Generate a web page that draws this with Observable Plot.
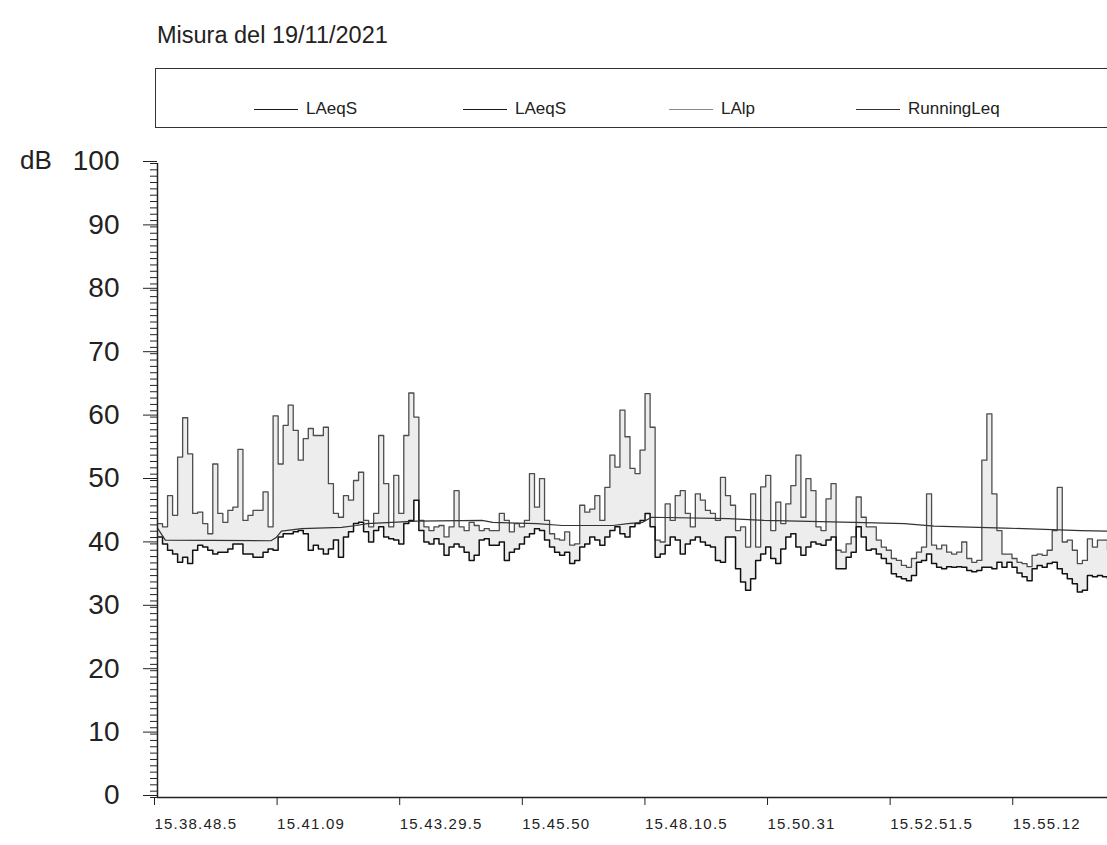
<!DOCTYPE html>
<html><head><meta charset="utf-8">
<script src="https://cdn.jsdelivr.net/npm/d3@7"></script>
<script src="https://cdn.jsdelivr.net/npm/@observablehq/plot@0.6"></script>
<style>
html,body{margin:0;padding:0;background:#fff;}
#page{position:relative;width:1107px;height:845px;overflow:hidden;font-family:"Liberation Sans",Arial,sans-serif;color:#222;}
#title{position:absolute;left:157px;top:21px;font-size:23.5px;line-height:28px;}
#legend{position:absolute;left:155px;top:68px;width:1000px;height:58px;border:1.5px solid #333;}
.item{position:absolute;top:30px;height:20px;display:flex;align-items:center;font-size:17px;white-space:nowrap;}
.swatch{display:inline-block;width:44px;height:0;border-top:1.5px solid #222;margin-right:8px;}
#dB{position:absolute;left:20px;top:145px;font-size:26px;line-height:30px;}
#chart{position:absolute;left:0;top:140px;}
#chart g[aria-label="x-axis tick label"] text{letter-spacing:1.2px;}
</style></head>
<body>
<div id="page">
  <div id="title">Misura del 19/11/2021</div>
  <div id="legend"></div>
  <div id="dB">dB</div>
  <div id="chart"></div>
</div>
<script>
// ---- data ----
const seriesNames = ["LAeqS", "LAeqS", "LAlp", "RunningLeq"];
const seriesColors = ["#1a1a1a", "#1a1a1a", "#8a8a8a", "#333333"];
const sampleSeconds = 5.76; // sampling interval of the plotted samples
const xTickLabels = ["15.38.48.5","15.41.09","15.43.29.5","15.45.50","15.48.10.5","15.50.31","15.52.51.5","15.55.12"];
const xTickSeconds = [0, 140.5, 281, 421.5, 562, 702.5, 843, 983.5];
const yTicks = [0,10,20,30,40,50,60,70,80,90,100];

// upper (peak) trace, dB
const lalp = [
 43.2,42.7,47.6,44.5,53.7,59.9,54.2,44.8,45.0,43.2, 41.6,52.6,44.8,43.4,45.3,45.8,54.9,43.7,44.5,45.3,
 45.3,48.2,42.7,60.2,52.6,58.7,61.9,57.9,53.2,56.6, 58.2,57.1,57.1,58.4,49.5,44.8,44.2,47.6,
 46.9,50.0,51.3,43.7,42.7,44.8,57.1,49.5,42.7,50.8, 44.8,57.1,63.8,60.0,43.7,42.7,42.1,42.7,42.9,41.1,
 42.7,48.4,42.7,42.1,43.4,42.9,42.1,42.4,42.1,42.1, 44.8,43.7,41.9,43.2,42.7,43.7,51.1,45.8,
 50.3,43.7,41.6,40.8,40.6,41.9,39.8,40.0,46.1,45.0, 45.5,47.6,43.7,48.9,54.0,52.1,61.1,56.9,51.9,51.1,
 54.8,63.7,58.4,40.6,40.3,46.3,43.7,47.6,48.4,44.8, 42.7,47.9,46.9,45.3,44.8,43.7,50.5,47.6,
 46.1,42.1,42.7,39.5,47.9,39.5,49.0,50.8,42.1,46.6, 43.2,46.3,49.2,54.0,44.2,50.3,48.4,42.7,42.1,47.1,
 49.5,39.0,38.7,40.0,41.1,47.4,44.2,42.7,42.7,40.6, 39.5,39.0,37.7,37.4,36.6,36.3,37.7,38.7,
 39.5,47.9,39.8,39.2,39.8,38.7,38.4,38.7,40.3,37.7, 37.1,37.4,53.2,60.5,47.9,42.1,38.4,38.4,37.7,37.1,
 36.9,36.4,38.2,38.4,38.2,39.0,42.1,48.9,40.3,40.6, 39.0,36.9,37.4,40.8,39.5,40.6,40.6,39.0
];
// lower trace, dB
const laeqs = [
 41.1,40.0,39.0,38.4,37.1,37.9,36.9,39.0,39.8,39.5, 39.0,38.4,38.7,38.7,39.2,40.0,40.0,38.4,38.4,37.9,
 37.9,38.7,39.2,39.0,41.1,41.6,41.6,41.9,42.1,41.6, 39.0,39.8,39.2,38.4,39.2,40.6,37.9,41.1,
 41.9,43.2,43.4,41.9,40.3,42.1,42.7,41.1,40.8,40.6, 40.0,43.2,43.7,46.9,42.1,40.3,40.0,40.8,40.0,38.2,
 39.5,40.0,39.5,38.7,37.4,38.2,40.6,40.8,39.8,39.8, 40.3,37.4,38.7,39.2,40.0,41.1,41.6,42.4,
 42.1,40.6,39.5,38.7,38.2,38.7,36.9,37.4,39.5,40.0, 41.1,40.6,39.8,41.1,42.1,42.7,41.6,41.1,42.7,43.2,
 43.7,44.8,42.7,37.9,38.4,39.8,41.1,40.6,38.4,40.0, 40.6,41.1,40.3,39.8,39.5,37.4,37.1,41.1,
 41.1,36.1,34.0,32.7,34.5,37.4,38.4,39.5,37.7,36.9, 39.2,41.1,41.6,39.5,38.2,39.5,40.3,40.0,39.8,40.6,
 41.1,36.1,36.1,37.9,38.7,42.7,41.1,39.0,39.2,38.4, 37.7,36.9,35.3,34.8,34.5,34.2,35.0,37.1,
 37.4,38.4,36.9,36.3,36.1,36.4,36.3,36.4,36.3,35.8, 35.6,35.8,36.3,36.3,36.1,37.1,36.3,37.1,36.3,35.4,
 34.8,34.2,36.1,36.6,36.3,36.9,37.1,36.1,35.3,34.5, 33.7,32.4,32.7,35.0,34.8,35.0,34.8,34.5
];
// running Leq: seconds from 15.38.48.5, dB
const runTimes  = [0, 9, 130, 136, 142, 165, 211, 228, 240, 297, 372, 384, 435, 464, 522, 539, 556, 566, 654, 695, 798, 856, 890, 971, 1058, 1089];
const runValues = [42.5,40.6,40.5,41.0,42.0,42.4,42.6,42.9,43.2,43.6,43.7,43.4,43.2,42.9,42.9,43.2,43.4,44.2,44.0,43.7,43.4,43.2,42.8,42.5,42.1,42.0];

// ---- build ----
const rows = laeqs.map((v, i) => ({t: i * sampleSeconds, lo: v, hi: lalp[i]}));
const running = runTimes.map((t, i) => ({t, v: runValues[i]}));
const minorTicks = d3.range(0, 101, 1);

const legend = document.getElementById("legend");
const legendX = [98, 307, 513, 700];
seriesNames.forEach((name, i) => {
  const it = document.createElement("div");
  it.className = "item";
  it.style.left = legendX[i] + "px";
  const sw = document.createElement("span");
  sw.className = "swatch";
  sw.style.borderTopColor = seriesColors[i];
  it.appendChild(sw);
  it.appendChild(document.createTextNode(name));
  legend.appendChild(it);
});

const chart = Plot.plot({
  width: 1107, height: 705,
  marginLeft: 157, marginRight: 0, marginTop: 23, marginBottom: 48,
  x: {domain: [0, (lalp.length - 1) * sampleSeconds]},
  y: {domain: [0, 100]},
  style: {fontFamily: '"Liberation Sans", Arial, sans-serif', color: "#222", background: "transparent"},
  marks: [
    Plot.areaY(rows, {x: "t", y1: "lo", y2: "hi", curve: "step-after", fill: "#9a9a9a", fillOpacity: 0.18}),
    Plot.lineY(rows, {x: "t", y: "hi", curve: "step-after", stroke: "#4d4d4d", strokeWidth: 1.3}),
    Plot.lineY(rows, {x: "t", y: "lo", curve: "step-after", stroke: "#111", strokeWidth: 1.5}),
    Plot.lineY(running, {x: "t", y: "v", stroke: "#333", strokeWidth: 1.2}),
    Plot.axisY({ticks: minorTicks, tickSize: 7, tickFormat: () => "", label: null, stroke: "#222"}),
    Plot.axisY({ticks: yTicks, tickSize: 14, tickPadding: 24, fontSize: 28, dy: -2, label: null, stroke: "#222", fill: "#222"}),
    Plot.axisX({ticks: xTickSeconds, tickFormat: d => xTickLabels[xTickSeconds.indexOf(d)], tickSize: 8, tickPadding: 13,
                textAnchor: "start", dx: -3, fontSize: 15, label: null, stroke: "#222", fill: "#222"}),
    Plot.ruleX([0], {y1: 0, y2: 100, stroke: "#222", strokeWidth: 1.5}),
    Plot.ruleY([0], {stroke: "#222", strokeWidth: 1.5})
  ]
});
document.getElementById("chart").appendChild(chart);
</script>
</body></html>
